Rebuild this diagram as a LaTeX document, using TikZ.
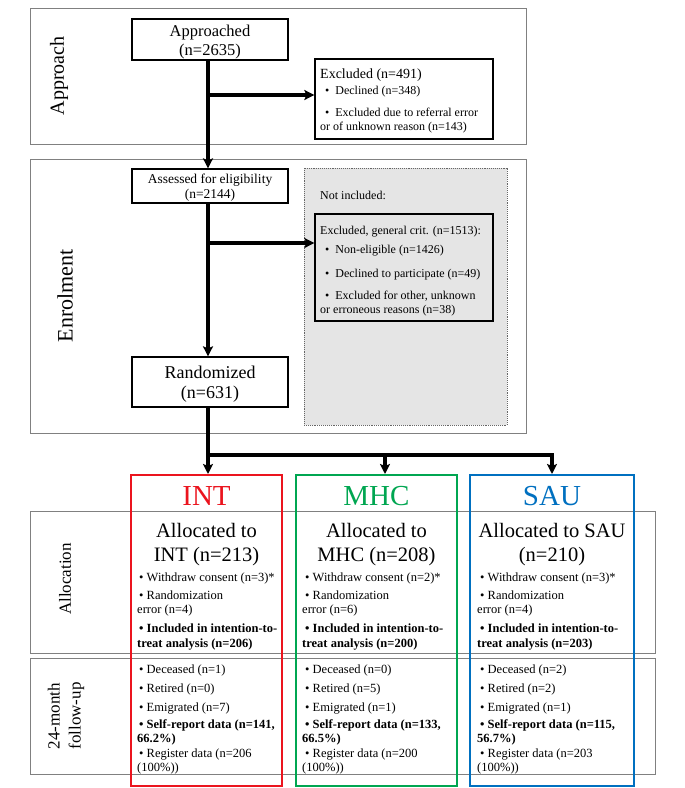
\documentclass[tikz,border=0pt]{standalone}
\usepackage{fontspec}
\setmainfont{Liberation Serif}
\usetikzlibrary{arrows.meta}
\definecolor{intred}{RGB}{235,20,30}
\definecolor{mhcgreen}{RGB}{0,166,81}
\definecolor{saublue}{RGB}{0,112,192}
\definecolor{panelgray}{RGB}{128,128,128}
\definecolor{notincfill}{RGB}{229,229,229}
\newcommand\myfs[2]{\fontsize{#1}{#2}\selectfont}
\begin{document}
\begin{tikzpicture}[x=1pt,y=-1pt,
  panel/.style={draw=panelgray,line width=1pt,inner sep=0pt},
  box/.style={draw=black,line width=1.3pt,inner sep=0pt},
  armbox/.style={line width=2pt,inner sep=0pt},
  flow/.style={line width=3.2pt,-{Stealth[length=10pt,width=10pt,inset=2pt]}},
  t/.style={inner sep=0pt,anchor=base west,font=\myfs{12.5}{14}},
  tc/.style={inner sep=0pt,anchor=base},
  lbl/.style={inner sep=0pt,rotate=90,align=center}]
\useasboundingbox (0,0) rectangle (685,788);
\fill[white] (0,0) rectangle (685,788);
% panels
\node[panel,minimum width=496pt,minimum height=136pt] (apanel) at (278,76) {};
\node[panel,minimum width=496pt,minimum height=274pt] (epanel) at (278,296) {};
\node[panel,minimum width=625pt,minimum height=142pt] (alpanel) at (342.5,582) {};
\node[panel,minimum width=625pt,minimum height=116pt] (fpanel) at (342.5,716) {};
% panel labels
\node[lbl,font=\myfs{20}{22}] (lapp) at (59,76) {Approach};
\node[lbl,font=\myfs{22}{24}] (lenr) at (65,296) {Enrolment};
\node[lbl,font=\myfs{17}{18}] (lall) at (65,579) {Allocation};
\node[lbl,font=\myfs{17}{21}] (lfol) at (66,716) {24-month\\follow-up};
% approach boxes
\node[box,minimum width=156pt,minimum height=41pt] (appr) at (210,39.5) {};
\node[tc,font=\myfs{16.5}{18}] (apprA) at (210,36) {Approached};
\node[tc,font=\myfs{16.5}{18}] (apprB) at (210,55) {(n=2635)};
\node[box,minimum width=178pt,minimum height=80pt] (excl) at (404,99) {};
\node[t,font=\myfs{14}{16}] (exclA) at (320,78) {Excluded (n=491)};
\node[t,font=\myfs{12}{14}] (exclB) at (325,94) {•\hspace{6pt}Declined (n=348)};
\node[t,font=\myfs{12}{14}] (exclC) at (325,116) {•\hspace{6pt}Excluded due to referral error};
\node[t,font=\myfs{12}{14}] (exclD) at (320,130) {or of unknown reason (n=143)};
% enrolment
\node[draw=panelgray!80!black,densely dotted,line width=0.9pt,fill=notincfill,minimum width=203pt,minimum height=257pt,inner sep=0pt] (notinc) at (405.5,296.5) {};
\node[t,font=\myfs{12}{14}] (notincA) at (320,199) {Not included:};
\node[box,minimum width=178pt,minimum height=107pt] (excg) at (404,267.5) {};
\node[t,font=\myfs{12}{14}] (excgA) at (320,234) {Excluded, general crit. (n=1513):};
\node[t,font=\myfs{12}{14}] (excgB) at (325,253) {•\hspace{6pt}Non-eligible (n=1426)};
\node[t,font=\myfs{12}{14}] (excgC) at (325,277) {•\hspace{6pt}Declined to participate (n=49)};
\node[t,font=\myfs{12}{14}] (excgD) at (325,299) {•\hspace{6pt}Excluded for other, unknown};
\node[t,font=\myfs{12}{14}] (excgE) at (320,313) {or erroneous reasons (n=38)};
\node[box,minimum width=156pt,minimum height=34pt] (asse) at (210,186) {};
\node[tc,font=\myfs{13.5}{15}] (asseA) at (210,183) {Assessed for eligibility};
\node[tc,font=\myfs{13.5}{15}] (asseB) at (210,198) {(n=2144)};
\node[box,minimum width=156pt,minimum height=50pt] (rand) at (210,382) {};
\node[tc,font=\myfs{18}{20}] (randA) at (210,378) {Randomized};
\node[tc,font=\myfs{18}{20}] (randB) at (210,398) {(n=631)};
% arm boxes
\node[armbox,draw=intred,minimum width=151pt,minimum height=311pt] (int) at (206.5,630.5) {};
\node[armbox,draw=mhcgreen,minimum width=161pt,minimum height=311pt] (mhc) at (376.5,630.5) {};
\node[armbox,draw=saublue,minimum width=164pt,minimum height=311pt] (sau) at (552,630.5) {};
\node[tc,font=\myfs{29}{30},text=intred] (intT) at (206.5,505) {INT};
\node[tc,font=\myfs{29}{30},text=mhcgreen] (mhcT) at (376.5,505) {MHC};
\node[tc,font=\myfs{29}{30},text=saublue] (sauT) at (552,505) {SAU};
\node[tc,font=\myfs{20.5}{23}] (intA) at (206.5,537) {Allocated to};
\node[tc,font=\myfs{20.5}{23}] (intB) at (206.5,561) {INT (n=213)};
\node[tc,font=\myfs{20.5}{23}] (mhcA) at (376.5,537) {Allocated to};
\node[tc,font=\myfs{20.5}{23}] (mhcB) at (376.5,561) {MHC (n=208)};
\node[tc,font=\myfs{20.5}{23}] (sauA) at (552,537) {Allocated to SAU};
\node[tc,font=\myfs{20.5}{23}] (sauB) at (552,561) {(n=210)};
\foreach \c/\xb/\xc/\va/\vb/\vc/\vd/\ve/\vf/\vg/\vh/\vi in {
  int/139/137/3/4/206/1/0/7/141/66.2/206,
  mhc/305/302/2/6/200/0/5/1/133/66.5/200,
  sau/480/477/3/4/203/2/2/1/115/56.7/203}{
  \node[t] (wd-\c) at (\xb,581) {• Withdraw consent (n=\va)*};
  \node[t] (ra-\c) at (\xb,599) {• Randomization};
  \node[t] (rb-\c) at (\xc,613) {error (n=\vb)};
  \node[t] (ia-\c) at (\xb,632) {\bfseries • Included in intention-to-};
  \node[t] (ib-\c) at (\xc,647) {\bfseries treat analysis (n=\vc)};
  \node[t] (de-\c) at (\xb,673) {• Deceased (n=\vd)};
  \node[t] (rt-\c) at (\xb,692) {• Retired (n=\ve)};
  \node[t] (em-\c) at (\xb,711) {• Emigrated (n=\vf)};
  \node[t] (sa-\c) at (\xb,728) {\bfseries • Self-report data (n=\vg,};
  \node[t] (sb-\c) at (\xc,742) {\bfseries \vh\%)};
  \node[t] (ga-\c) at (\xb,757) {• Register data (n=\vi};
  \node[t] (gb-\c) at (\xc,771) {(100\%))};
}
% connectors
\draw[flow] ([xshift=-2pt]appr.south) -- ([xshift=-2pt]asse.north);
\coordinate (b1) at (208,95);
\draw[flow] (b1) -- (b1 -| excl.west);
\draw[flow] ([xshift=-2pt]asse.south) -- ([xshift=-2pt]rand.north);
\coordinate (b2) at (208,243);
\draw[flow] (b2) -- (b2 -| excg.west);
\draw[flow] ([xshift=-2pt]rand.south) -- ([xshift=-2pt]rand.south |- int.north);
\coordinate (split) at (206.4,455);
\draw[flow] (split) -| (sau.north);
\coordinate (mhcin) at (385,455);
\draw[flow] (mhcin) -- (mhcin |- mhc.north);
\end{tikzpicture}
\end{document}
